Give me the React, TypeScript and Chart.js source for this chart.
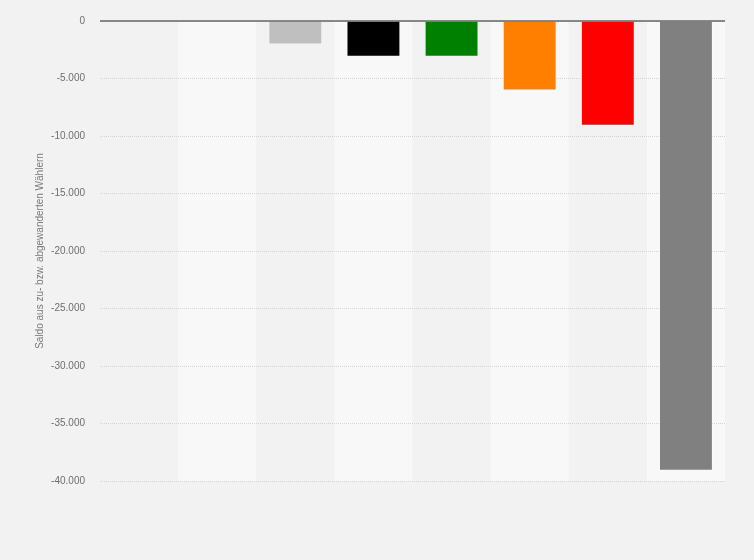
import React, { useEffect, useRef } from "react";
import { Chart, registerables } from "chart.js";

Chart.register(...registerables);

const categories = ["A", "B", "C", "D", "E", "F", "G", "H"];
const values = [0, 0, -2050, -3100, -3100, -6050, -9100, -39100];
const barColors = ["#bfbfbf", "#bfbfbf", "#bfbfbf", "#000000", "#008000", "#ff8000", "#ff0000", "#808080"];
const yTitle = "Saldo aus zu- bzw. abgewanderten Wählern";

const fmt = (v: number) => {
  const s = Math.abs(v).toString().replace(/\B(?=(\d{3})+(?!\d))/g, ".");
  return (v < 0 ? "-" : "") + s;
};

const bgPlugin = {
  id: "bgPlugin",
  beforeDraw(chart: any) {
    const { ctx, width, height, chartArea } = chart;
    ctx.save();
    ctx.fillStyle = "#f2f2f2";
    ctx.fillRect(0, 0, width, height);
    const n = categories.length;
    const w = (chartArea.right - chartArea.left) / n;
    for (let i = 0; i < n; i++) {
      if (i % 2 === 1) {
        ctx.fillStyle = "#f8f8f8";
        ctx.fillRect(chartArea.left + i * w, chartArea.top, w, chartArea.bottom - chartArea.top);
      }
    }
    ctx.restore();
  },
  afterDatasetsDraw(chart: any) {
    const { ctx, chartArea, scales } = chart;
    const y0 = scales.y.getPixelForValue(0);
    ctx.save();
    ctx.strokeStyle = "#666666";
    ctx.lineWidth = 1.5;
    ctx.beginPath();
    ctx.moveTo(chartArea.left, y0);
    ctx.lineTo(chartArea.right, y0);
    ctx.stroke();
    ctx.restore();
  },
};

export default function App() {
  const ref = useRef<HTMLCanvasElement | null>(null);
  useEffect(() => {
    if (!ref.current) return;
    const chart = new Chart(ref.current, {
      type: "bar",
      data: {
        labels: categories,
        datasets: [
          {
            data: values,
            backgroundColor: barColors,
            borderColor: "rgba(255,255,255,0.35)",
            borderWidth: 1,
            barPercentage: 0.69,
            categoryPercentage: 1,
          },
        ],
      },
      options: {
        animation: false,
        responsive: false,
        maintainAspectRatio: false,
        layout: { padding: { left: 0, right: 29, top: 20, bottom: 79 } },
        plugins: { legend: { display: false }, tooltip: { enabled: false } },
        scales: {
          x: { display: false, grid: { display: false } },
          y: {
            min: -40000,
            max: 0,
            afterFit(scale: any) {
              scale.width = 100;
            },
            ticks: {
              stepSize: 5000,
              padding: 15,
              color: "#6e6e6e",
              font: { family: "Liberation Sans, Arial, sans-serif", size: 10 },
              callback: (v: any) => fmt(Number(v)),
            },
            grid: { color: "#d4d4d4", lineWidth: 1, drawTicks: false },
            border: { display: false, dash: [1, 1] },
            title: {
              display: true,
              text: yTitle,
              color: "#7a7a7a",
              font: { family: "Liberation Sans, Arial, sans-serif", size: 10 },
              padding: { top: 34, bottom: 0 },
            },
          },
        },
      },
      plugins: [bgPlugin],
    });
    return () => chart.destroy();
  }, []);
  return (
    <div style={{ position: "fixed", left: 0, top: 0, width: 754, height: 560 }}>
      <canvas ref={ref} width={754} height={560} style={{ width: 754, height: 560 }} />
    </div>
  );
}
